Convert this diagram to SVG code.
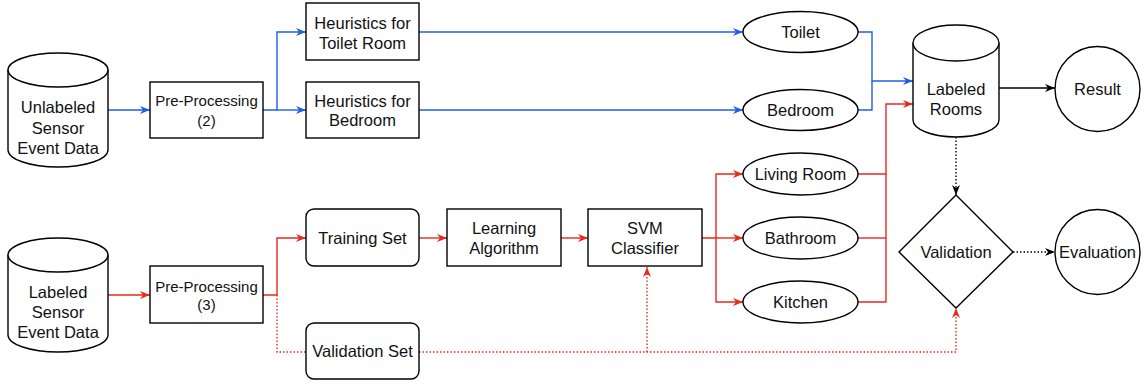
<svg xmlns="http://www.w3.org/2000/svg" width="1146" height="385" viewBox="0 0 1146 385">
  <style>
    .shape { fill: #ffffff; stroke: #000000; stroke-width: 1.4; }
    .lbl { font-family: "Liberation Sans", Arial, Helvetica, sans-serif; font-size: 16.5px; fill: #111111; text-anchor: middle; }
    .small { font-size: 15px; }
    .blue { fill: none; stroke: #1f5fe6; stroke-width: 1.4; }
    .red { fill: none; stroke: #e8291c; stroke-width: 1.4; }
    .black { fill: none; stroke: #000000; stroke-width: 1.4; }
    .dot { stroke-dasharray: 1.5 2; }
  </style>
  <defs>
    <marker id="ah-blue" viewBox="0 0 10 8" refX="10" refY="4" markerWidth="10" markerHeight="8" markerUnits="userSpaceOnUse" orient="auto">
      <path d="M0,0 L10,4 L0,8 L3,4 Z" fill="#1f5fe6"/>
    </marker>
    <marker id="ah-red" viewBox="0 0 10 8" refX="10" refY="4" markerWidth="10" markerHeight="8" markerUnits="userSpaceOnUse" orient="auto">
      <path d="M0,0 L10,4 L0,8 L3,4 Z" fill="#e8291c"/>
    </marker>
    <marker id="ah-black" viewBox="0 0 10 8" refX="10" refY="4" markerWidth="10" markerHeight="8" markerUnits="userSpaceOnUse" orient="auto">
      <path d="M0,0 L10,4 L0,8 L3,4 Z" fill="#000000"/>
    </marker>
  </defs>

  <rect width="1146" height="385" fill="#ffffff"/>

  <!-- connectors -->
  <g id="connectors">
    <!-- unlabeled branch (blue) -->
    <path class="blue" d="M108,110 H150" marker-end="url(#ah-blue)"/>
    <path class="blue" d="M263,110 H277 V32 H306" marker-end="url(#ah-blue)"/>
    <path class="blue" d="M277,110 H306" marker-end="url(#ah-blue)"/>
    <path class="blue" d="M419,32 H743" marker-end="url(#ah-blue)"/>
    <path class="blue" d="M419,110 H743" marker-end="url(#ah-blue)"/>
    <path class="blue" d="M858,32 H872 V81 H913" marker-end="url(#ah-blue)"/>
    <path class="blue" d="M858,110 H872 V81"/>

    <!-- labeled branch (red) -->
    <path class="red" d="M108,295 H150" marker-end="url(#ah-red)"/>
    <path class="red" d="M263,295 H277 V238 H306" marker-end="url(#ah-red)"/>
    <path class="red dot" d="M277,295 V352 H306"/>
    <path class="red" d="M419,238 H447" marker-end="url(#ah-red)"/>
    <path class="red" d="M561,238 H588" marker-end="url(#ah-red)"/>
    <path class="red" d="M702,238 H716 V174 H743" marker-end="url(#ah-red)"/>
    <path class="red" d="M716,238 H743" marker-end="url(#ah-red)"/>
    <path class="red" d="M716,238 V302 H743" marker-end="url(#ah-red)"/>
    <path class="red" d="M858,174 H886 V104 H913" marker-end="url(#ah-red)"/>
    <path class="red" d="M858,238 H886"/>
    <path class="red" d="M858,302 H886 V174"/>
    <path class="red dot" d="M419,352 H956 V308" marker-end="url(#ah-red)"/>
    <path class="red dot" d="M647,352 V267" marker-end="url(#ah-red)"/>

    <!-- results (black) -->
    <path class="black" d="M999,88 H1055" marker-end="url(#ah-black)"/>
    <path class="black dot" d="M956,137 V195" marker-end="url(#ah-black)"/>
    <path class="black dot" d="M1013,252 H1055" marker-end="url(#ah-black)"/>
  </g>

  <!-- data stores -->
  <g id="unlabeled-data">
    <path class="shape" d="M8,70 A50,17 0 0 1 108,70 V150 A50,17 0 0 1 8,150 Z"/>
    <path class="shape" fill="none" d="M8,70 A50,17 0 0 0 108,70"/>
    <text class="lbl" x="58" y="113">Unlabeled</text>
    <text class="lbl" x="58" y="134">Sensor</text>
    <text class="lbl" x="58" y="154">Event Data</text>
  </g>
  <g id="labeled-data">
    <path class="shape" d="M8,255 A50,17 0 0 1 108,255 V335 A50,17 0 0 1 8,335 Z"/>
    <path class="shape" fill="none" d="M8,255 A50,17 0 0 0 108,255"/>
    <text class="lbl" x="58" y="298">Labeled</text>
    <text class="lbl" x="58" y="318">Sensor</text>
    <text class="lbl" x="58" y="338">Event Data</text>
  </g>
  <g id="labeled-rooms">
    <path class="shape" d="M913,43 A43,18 0 0 1 999,43 V120 A43,17 0 0 1 913,120 Z"/>
    <path class="shape" fill="none" d="M913,43 A43,18 0 0 0 999,43"/>
    <text class="lbl" x="956" y="95">Labeled</text>
    <text class="lbl" x="956" y="115">Rooms</text>
  </g>

  <!-- processing steps -->
  <g id="preprocessing-2">
    <rect class="shape" x="150" y="82" width="113" height="56"/>
    <text class="lbl small" x="206.5" y="106">Pre-Processing</text>
    <text class="lbl small" x="206.5" y="126">(2)</text>
  </g>
  <g id="preprocessing-3">
    <rect class="shape" x="150" y="266" width="113" height="57"/>
    <text class="lbl small" x="206.5" y="292">Pre-Processing</text>
    <text class="lbl small" x="206.5" y="310">(3)</text>
  </g>
  <g id="heuristics-toilet">
    <rect class="shape" x="306" y="3" width="113" height="57"/>
    <text class="lbl" x="362.5" y="29">Heuristics for</text>
    <text class="lbl" x="362.5" y="49">Toilet Room</text>
  </g>
  <g id="heuristics-bedroom">
    <rect class="shape" x="306" y="82" width="113" height="56"/>
    <text class="lbl" x="362.5" y="107">Heuristics for</text>
    <text class="lbl" x="362.5" y="126">Bedroom</text>
  </g>
  <g id="training-set">
    <rect class="shape" x="306" y="209" width="113" height="57" rx="8"/>
    <text class="lbl" x="362.5" y="244">Training Set</text>
  </g>
  <g id="validation-set">
    <rect class="shape" x="306" y="323" width="113" height="56" rx="8"/>
    <text class="lbl" x="362.5" y="357">Validation Set</text>
  </g>
  <g id="learning-algorithm">
    <rect class="shape" x="447" y="209" width="114" height="57"/>
    <text class="lbl" x="504" y="234">Learning</text>
    <text class="lbl" x="504" y="254">Algorithm</text>
  </g>
  <g id="svm-classifier">
    <rect class="shape" x="588" y="209" width="114" height="57"/>
    <text class="lbl" x="645" y="234">SVM</text>
    <text class="lbl" x="645" y="254">Classifier</text>
  </g>

  <!-- room classes -->
  <g id="toilet">
    <ellipse class="shape" cx="800.5" cy="32" rx="57.5" ry="20.5"/>
    <text class="lbl" x="800.5" y="38">Toilet</text>
  </g>
  <g id="bedroom">
    <ellipse class="shape" cx="800.5" cy="110" rx="57.5" ry="20.5"/>
    <text class="lbl" x="800.5" y="116">Bedroom</text>
  </g>
  <g id="living-room">
    <ellipse class="shape" cx="800.5" cy="174" rx="57.5" ry="21"/>
    <text class="lbl" x="800.5" y="180">Living Room</text>
  </g>
  <g id="bathroom">
    <ellipse class="shape" cx="800.5" cy="238" rx="57.5" ry="21"/>
    <text class="lbl" x="800.5" y="244">Bathroom</text>
  </g>
  <g id="kitchen">
    <ellipse class="shape" cx="800.5" cy="302" rx="57.5" ry="21"/>
    <text class="lbl" x="800.5" y="308">Kitchen</text>
  </g>

  <!-- outputs -->
  <g id="result">
    <circle class="shape" cx="1097.5" cy="89" r="42.5"/>
    <text class="lbl" x="1097.5" y="95">Result</text>
  </g>
  <g id="validation">
    <path class="shape" d="M956,195 L1013,252 L956,308 L899,252 Z"/>
    <text class="lbl" x="956" y="258">Validation</text>
  </g>
  <g id="evaluation">
    <circle class="shape" cx="1097.5" cy="252" r="42.5"/>
    <text class="lbl" x="1097.5" y="258">Evaluation</text>
  </g>
</svg>
